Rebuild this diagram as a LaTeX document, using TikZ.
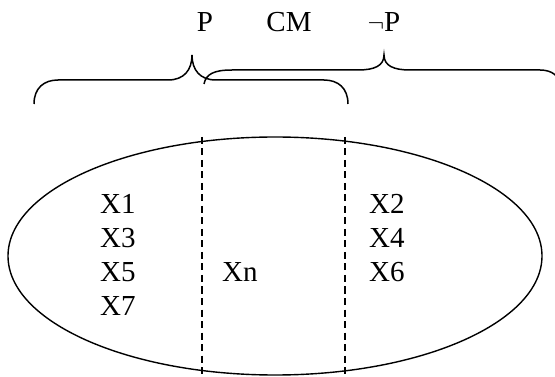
\documentclass[tikz,border=0pt]{standalone}
\usepackage{fontspec}
\setmainfont{Liberation Serif}
\begin{document}
\begin{tikzpicture}[x=1pt, y=-1pt,
    lbl/.style={font=\fontsize{29}{33}\selectfont, inner sep=0pt},
    bracepath/.style={line width=1.5pt},
    divider/.style={line width=1.3pt, dash pattern=on 7pt off 4.5pt}]
  \useasboundingbox (0,0) rectangle (555,377);
  % the population
  \draw[line width=1.4pt] (275,256) ellipse [x radius=267, y radius=119];
  \draw[divider] (202,137) -- (202,375);
  \draw[divider] (345,137) -- (345,375);
  % members of each part
  \foreach \lab [count=\i] in {X1,X3,X5,X7}{
    \node[lbl, anchor=west] (left\i) at (100, 170+34*\i) {\lab};
  }
  \foreach \lab [count=\i] in {X2,X4,X6}{
    \node[lbl, anchor=west] (right\i) at (369, 170+34*\i) {\lab};
  }
  \node[lbl, anchor=west] (mid) at (222, 272) {Xn};
  % braces
  \draw[bracepath] (34,104) .. controls (34,88) and (44,80) .. (58,80) -- (168,80)
    .. controls (184,80) and (192,70) .. (192,55)
    .. controls (192,70) and (200,80) .. (216,80) -- (324,80)
    .. controls (338,80) and (348,88) .. (348,104);
  \draw[bracepath] (204,84) .. controls (206,74) and (214,70) .. (232,70) -- (358,70)
    .. controls (374,70) and (384,66) .. (384,55)
    .. controls (384,66) and (394,70) .. (410,70) -- (540,70)
    .. controls (552,70) and (560,76) .. (562,88);
  % labels
  \node[lbl] (p) at (205,22) {P};
  \node[lbl] (cm) at (289,22) {CM};
  \node[lbl] (notp) at (384,22) {$\neg$P};
\end{tikzpicture}
\end{document}
